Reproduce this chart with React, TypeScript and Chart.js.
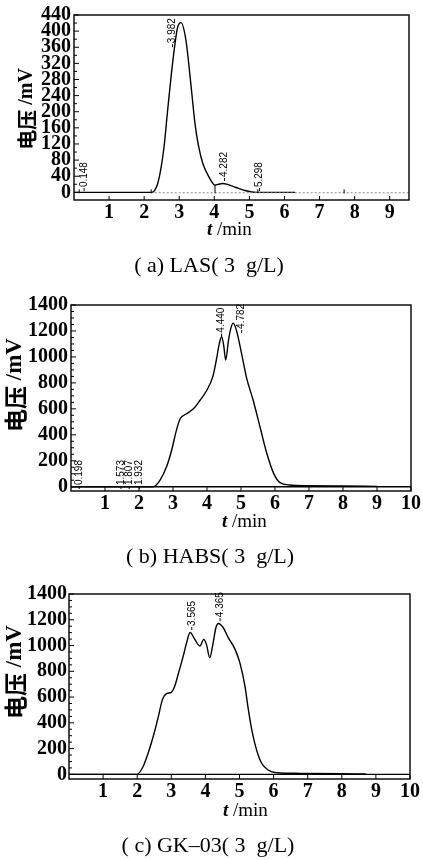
import React, { useEffect, useRef } from "react";
import { Chart, registerables } from "chart.js";

Chart.register(...registerables);

const W = 423;

// ---------- (a) LAS ----------
const timeA = [0, 2.22, 2.3, 2.38, 2.48, 2.57, 2.66, 2.81, 2.95, 3.05, 3.19, 3.33, 3.45, 3.55, 3.67, 3.86, 4.02, 4.12, 4.24, 4.4, 4.62, 4.9, 5.2, 6.3];
const voltA = [0, 0, 5, 20, 60, 115, 195, 320, 408, 421, 378, 270, 170, 115, 72, 36, 18, 20, 22, 19, 12, 4, 0, 0];
const baseTimeA = [2.3, 9.55];
const baseVoltA = [-1, -1];
const yTicksA = [0, 40, 80, 120, 160, 200, 240, 280, 320, 360, 400, 440];
const xTicksA = [1, 2, 3, 4, 5, 6, 7, 8, 9];
const labelsA = [
  { text: "0.148", t: 0.29, v: 13 },
  { text: "3.982", t: 2.81, v: 370 },
  { text: "4.282", t: 4.29, v: 38 },
  { text: "5.298", t: 5.29, v: 13 },
];
const marksA = [
  { t: 0.148, v: 0 },
  { t: 2.2, v: 0 },
  { t: 4.02, v: 18 },
  { t: 5.24, v: 0 },
  { t: 7.7, v: 0 },
];

// ---------- (b) HABS ----------
const timeB = [0, 2.42, 2.62, 2.81, 2.96, 3.1, 3.21, 3.4, 3.6, 3.79, 3.99, 4.18, 4.28, 4.36, 4.43, 4.49, 4.55, 4.63, 4.7, 4.77, 4.87, 5.02, 5.16, 5.36, 5.56, 5.76, 5.96, 6.15, 6.44, 7, 8, 9];
const voltB = [0, 0, 51, 153, 281, 434, 524, 562, 600, 664, 741, 856, 984, 1100, 1155, 1090, 976, 1124, 1220, 1260, 1201, 1022, 843, 664, 460, 256, 103, 31, 13, 8, 5, 3];
const baseTimeB = [0, 10];
const baseVoltB = [0, 0];
const yTicksB = [0, 200, 400, 600, 800, 1000, 1200, 1400];
const xTicksB = [1, 2, 3, 4, 5, 6, 7, 8, 9, 10];
const labelsB = [
  { text: "0.198", t: 0.24, v: 13 },
  { text: "1.573", t: 1.47, v: 13 },
  { text: "1.807", t: 1.71, v: 13 },
  { text: "1.932", t: 2.01, v: 13 },
  { text: "4.440", t: 4.43, v: 1187 },
  { text: "4.782", t: 5.02, v: 1216 },
];
const marksB: { t: number; v: number }[] = [];

// ---------- (c) GK-03 ----------
const timeC = [0, 2.0, 2.17, 2.32, 2.47, 2.61, 2.74, 2.86, 3.0, 3.1, 3.2, 3.35, 3.45, 3.55, 3.69, 3.84, 3.95, 4.03, 4.13, 4.21, 4.31, 4.38, 4.52, 4.67, 4.87, 5.01, 5.16, 5.26, 5.36, 5.5, 5.65, 5.84, 6.09, 6.77, 8.0, 8.7];
const voltC = [0, 0, 59, 164, 294, 437, 580, 627, 637, 684, 775, 918, 1023, 1101, 1048, 996, 1048, 1009, 905, 996, 1140, 1171, 1140, 1062, 970, 867, 684, 502, 346, 190, 86, 34, 13, 8, 5, 3];
const baseTimeC = [0, 10];
const baseVoltC = [0, 0];
const yTicksC = [0, 200, 400, 600, 800, 1000, 1200, 1400];
const xTicksC = [1, 2, 3, 4, 5, 6, 7, 8, 9, 10];
const labelsC = [
  { text: "3.565", t: 3.6, v: 1152 },
  { text: "4.365", t: 4.43, v: 1220 },
];
const marksC: { t: number; v: number }[] = [];

type Series = { t: number[]; v: number[]; color: string; width: number; dash?: number[] };
type Panel = {
  top: number;
  height: number;
  plot: { left: number; right: number; top: number; bottom: number };
  xMax: number;
  yMin: number;
  yMax: number;
  yTicks: number[];
  xTicks: number[];
  yMinor: number;
  series: Series[];
  labels: { text: string; t: number; v: number }[];
  marks: { t: number; v: number }[];
  yTitle: { x: number; y: number; size: number };
  xTitle: { x: number; y: number; size: number };
  caption: { text: string; x: number; y: number; size: number };
  tickPad: number;
};

const panels: Panel[] = [
  {
    top: 0,
    height: 290,
    plot: { left: 74, right: 409, top: 15, bottom: 200 },
    xMax: 9.55,
    yMin: -19,
    yMax: 440,
    yTicks: yTicksA,
    xTicks: xTicksA,
    yMinor: 20,
    series: [
      { t: baseTimeA, v: baseVoltA, color: "#888", width: 1, dash: [2, 2] },
      { t: timeA, v: voltA, color: "#000", width: 1.4 },
    ],
    labels: labelsA,
    marks: marksA,
    yTitle: { x: 27, y: 109, size: 20 },
    xTitle: { x: 207, y: 235, size: 19 },
    caption: { text: "( a) LAS( 3  g/L)", x: 209, y: 272, size: 22 },
    tickPad: 3,
  },
  {
    top: 290,
    height: 290,
    plot: { left: 71, right: 411, top: 13, bottom: 201 },
    xMax: 10,
    yMin: -33,
    yMax: 1400,
    yTicks: yTicksB,
    xTicks: xTicksB,
    yMinor: 50,
    series: [
      { t: baseTimeB, v: baseVoltB, color: "#000", width: 1.4 },
      { t: timeB, v: voltB, color: "#000", width: 1.4 },
    ],
    labels: labelsB,
    marks: marksB,
    yTitle: { x: 15, y: 95, size: 23 },
    xTitle: { x: 222, y: 237, size: 19 },
    caption: { text: "( b) HABS( 3  g/L)", x: 210, y: 273, size: 22 },
    tickPad: 3,
  },
  {
    top: 580,
    height: 280,
    plot: { left: 69, right: 410, top: 14, bottom: 199 },
    xMax: 10,
    yMin: -36,
    yMax: 1400,
    yTicks: yTicksC,
    xTicks: xTicksC,
    yMinor: 50,
    series: [
      { t: baseTimeC, v: baseVoltC, color: "#000", width: 1.4 },
      { t: timeC, v: voltC, color: "#000", width: 1.4 },
    ],
    labels: labelsC,
    marks: marksC,
    yTitle: { x: 15, y: 92, size: 23 },
    xTitle: { x: 223, y: 236, size: 19 },
    caption: { text: "( c) GK–03( 3  g/L)", x: 208, y: 272, size: 22 },
    tickPad: 2,
  },
];

function line(ctx: CanvasRenderingContext2D, x1: number, y1: number, x2: number, y2: number) {
  ctx.beginPath();
  ctx.moveTo(x1, y1);
  ctx.lineTo(x2, y2);
  ctx.stroke();
}

function makeDecor(p: Panel) {
  return {
    id: "decor",
    afterDraw(chart: any) {
      const { ctx, chartArea: ca, scales } = chart;
      const xs = scales.x;
      const ys = scales.y;
      ctx.save();
      ctx.strokeStyle = "#000";
      ctx.fillStyle = "#000";
      ctx.lineWidth = 1.4;
      ctx.strokeRect(ca.left, ca.top, ca.right - ca.left, ca.bottom - ca.top);

      // y ticks (inward)
      ctx.lineWidth = 1;
      for (const v of p.yTicks) {
        const py = ys.getPixelForValue(v);
        line(ctx, ca.left, py, ca.left + 5, py);
      }
      for (let v = 0; v < p.yMax; v += p.yMinor) {
        if (p.yTicks.indexOf(v) >= 0) continue;
        const py = ys.getPixelForValue(v);
        line(ctx, ca.left, py, ca.left + 3, py);
      }
      // x ticks (inward)
      for (const t of p.xTicks) {
        const px = xs.getPixelForValue(t);
        line(ctx, px, ca.bottom, px, ca.bottom - 4);
      }

      // integration marks
      const y0 = ys.getPixelForValue(0);
      for (const m of p.marks) {
        const px = xs.getPixelForValue(m.t);
        const py = Math.min(ys.getPixelForValue(m.v), y0 - 3);
        line(ctx, px, y0 + 1, px, py);
      }

      // peak labels
      ctx.font = '10px "Liberation Sans"';
      ctx.textAlign = "left";
      ctx.textBaseline = "middle";
      for (const l of p.labels) {
        const px = xs.getPixelForValue(l.t);
        const py = ys.getPixelForValue(l.v);
        ctx.save();
        ctx.translate(px, py);
        ctx.rotate(-Math.PI / 2);
        ctx.fillText(l.text, 0, 0);
        ctx.restore();
        line(ctx, px, py + 1, px, py + 4);
      }

      // y title
      {
        const { x, y, size } = p.yTitle;
        const cjk = `bold ${size}px "Noto Sans CJK SC"`;
        const lat = `bold ${size}px "Liberation Serif"`;
        ctx.font = cjk;
        const w1 = ctx.measureText("电压").width;
        ctx.font = lat;
        const w2 = ctx.measureText(" /mV").width;
        const total = w1 + w2;
        ctx.save();
        ctx.translate(x, y);
        ctx.rotate(-Math.PI / 2);
        ctx.textBaseline = "middle";
        ctx.textAlign = "left";
        ctx.font = cjk;
        ctx.fillText("电压", -total / 2, 0);
        ctx.font = lat;
        ctx.fillText(" /mV", -total / 2 + w1, 0);
        ctx.restore();
      }

      // x title
      {
        const { x, y, size } = p.xTitle;
        ctx.textAlign = "left";
        ctx.textBaseline = "alphabetic";
        ctx.font = `italic bold ${size}px "Liberation Serif"`;
        ctx.fillText("t", x, y);
        const wt = ctx.measureText("t").width;
        ctx.font = `${size}px "Liberation Serif"`;
        ctx.fillText(" /min", x + wt, y);
      }

      // caption
      {
        const { text, x, y, size } = p.caption;
        ctx.font = `${size}px "Liberation Serif"`;
        ctx.textAlign = "center";
        ctx.textBaseline = "alphabetic";
        ctx.fillText(text, x, y);
      }
      ctx.restore();
    },
  };
}

function buildChart(canvas: HTMLCanvasElement, p: Panel) {
  const tickFont = { family: '"Liberation Serif"', size: 20, weight: "bold" as const };
  const plain = (v: any) => String(v);
  return new Chart(canvas, {
    type: "scatter",
    data: {
      datasets: p.series.map((s) => ({
        data: s.t.map((x, i) => ({ x, y: s.v[i] })),
        showLine: true,
        borderColor: s.color,
        borderWidth: s.width,
        borderDash: s.dash || [],
        pointRadius: 0,
        cubicInterpolationMode: "monotone" as const,
        fill: false,
      })),
    },
    options: {
      responsive: false,
      animation: false,
      events: [],
      layout: { padding: { left: 0, right: W - p.plot.right, top: p.plot.top, bottom: 0 } },
      plugins: { legend: { display: false }, tooltip: { enabled: false } },
      scales: {
        x: {
          type: "linear",
          min: 0,
          max: p.xMax,
          grid: { display: false, drawTicks: false },
          border: { display: false },
          afterBuildTicks: (s: any) => {
            s.ticks = p.xTicks.map((v) => ({ value: v }));
          },
          afterFit: (s: any) => {
            s.height = p.height - p.plot.bottom;
          },
          ticks: { font: tickFont, color: "#000", padding: 1, maxRotation: 0, autoSkip: false, callback: plain },
        },
        y: {
          type: "linear",
          min: p.yMin,
          max: p.yMax,
          grid: { display: false, drawTicks: false },
          border: { display: false },
          afterBuildTicks: (s: any) => {
            s.ticks = p.yTicks.map((v) => ({ value: v }));
          },
          afterFit: (s: any) => {
            s.width = p.plot.left;
          },
          ticks: { font: tickFont, color: "#000", padding: p.tickPad, autoSkip: false, callback: plain },
        },
      },
    },
    plugins: [makeDecor(p)],
  } as any);
}

export default function App() {
  const r0 = useRef<HTMLCanvasElement>(null);
  const r1 = useRef<HTMLCanvasElement>(null);
  const r2 = useRef<HTMLCanvasElement>(null);
  const refs = [r0, r1, r2];

  useEffect(() => {
    const charts = panels.map((p, i) => buildChart(refs[i].current as HTMLCanvasElement, p));
    return () => charts.forEach((c) => c.destroy());
  }, []);

  return (
    <div style={{ position: "absolute", left: 0, top: 0, width: W, height: 860, background: "#fff" }}>
      {panels.map((p, i) => (
        <canvas
          key={i}
          ref={refs[i]}
          width={W}
          height={p.height}
          style={{ position: "absolute", left: 0, top: p.top, width: W, height: p.height }}
        />
      ))}
    </div>
  );
}
